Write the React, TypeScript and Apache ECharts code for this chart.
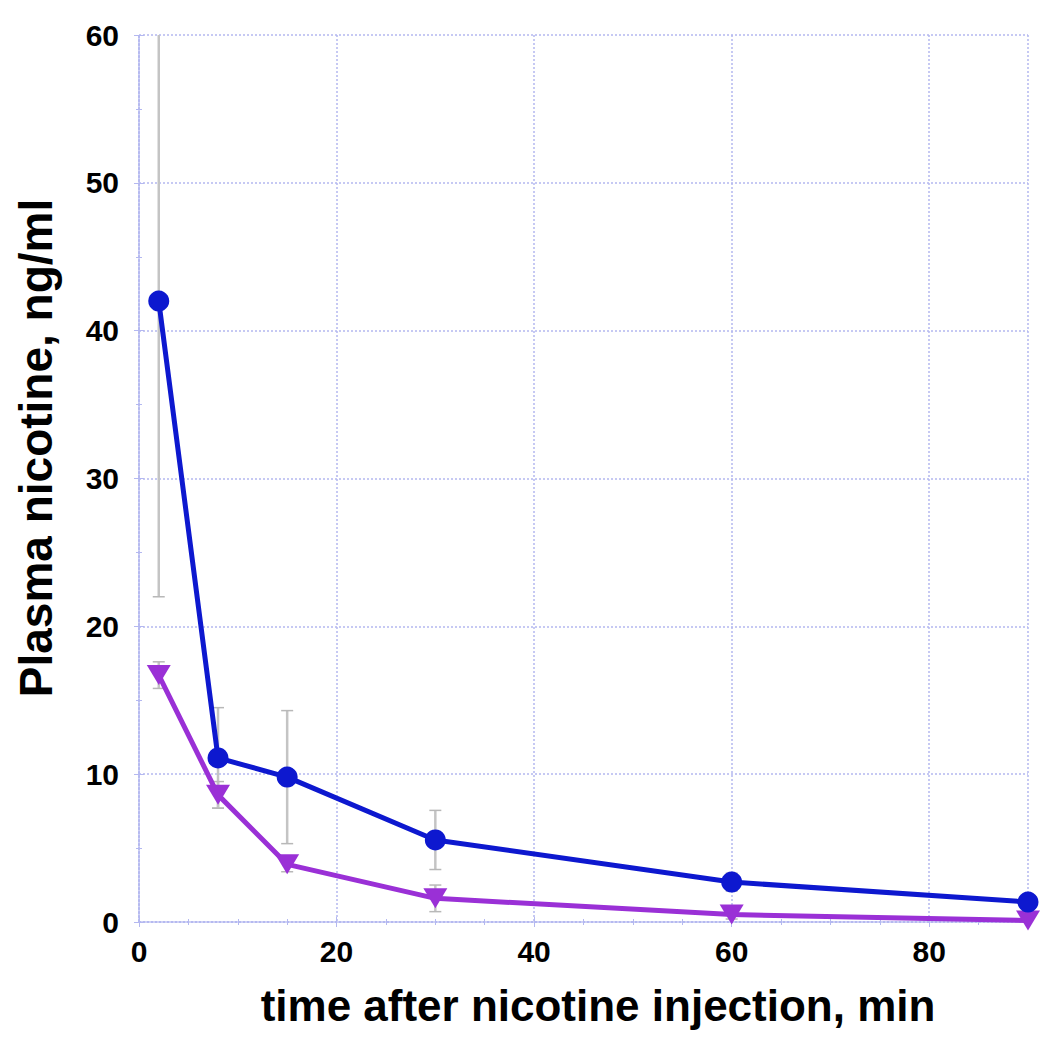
import React, { useEffect, useRef } from "react";
import * as echarts from "echarts";

const times = [2, 8, 15, 30, 60, 90];
const seriesA = [42, 11.1, 9.8, 5.55, 2.7, 1.35];
const seriesAErr = [20, 3.4, 4.5, 2.0, 0.6, 0.3];
const seriesB = [16.7, 8.6, 3.9, 1.6, 0.5, 0.1];
const seriesBErr = [0.9, 0.9, 0.5, 0.9, 0.3, 0.2];
const xTitle = "time after nicotine injection, min";
const yTitle = "Plasma nicotine, ng/ml";

const X_MIN = 0, X_MAX = 90, Y_MIN = 0, Y_MAX = 60;

const BLUE = "#0d18cf";
const PURPLE = "#9a30d6";
const GRIDC = "#b4b8f0";
const FONT = "'Liberation Sans', Arial, Helvetica, sans-serif";

function errRender(params: any, api: any) {
  const x = api.value(0);
  const y = api.value(1);
  const e = api.value(2);
  const hiV = y + e;
  const loV = y - e;
  const hi = api.coord([x, Math.min(hiV, Y_MAX)]);
  const lo = api.coord([x, Math.max(loV, Y_MIN)]);
  const style = { stroke: "#c4c4c4", lineWidth: 2.5 };
  const children: any[] = [
    { type: "line", shape: { x1: hi[0], y1: hi[1], x2: lo[0], y2: lo[1] }, style },
  ];
  const w = 6;
  if (hiV <= Y_MAX) {
    children.push({ type: "line", shape: { x1: hi[0] - w, y1: hi[1], x2: hi[0] + w, y2: hi[1] }, style: { stroke: "#b8b8b8", lineWidth: 1.5 } });
  }
  if (loV >= Y_MIN) {
    children.push({ type: "line", shape: { x1: lo[0] - w, y1: lo[1], x2: lo[0] + w, y2: lo[1] }, style: { stroke: "#b8b8b8", lineWidth: 1.5 } });
  }
  return { type: "group", children };
}

export default function App() {
  const ref = useRef<HTMLDivElement>(null);
  useEffect(() => {
    if (!ref.current) return;
    const chart = echarts.init(ref.current, null, { renderer: "svg" });
    const dataA = times.map((t, i) => [t, seriesA[i]]);
    const dataB = times.map((t, i) => [t, seriesB[i]]);
    const errA = times.map((t, i) => [t, seriesA[i], seriesAErr[i]]);
    const errB = times.map((t, i) => [t, seriesB[i], seriesBErr[i]]);
    const borderAxisLine = { show: true, lineStyle: { color: GRIDC, width: 1.5, type: [2, 2] as any } };
    const tickStyle = { show: true, inside: true, length: 5, lineStyle: { color: GRIDC, width: 1 } };
    const minorStyle = { show: true, splitNumber: 4, length: 3, lineStyle: { color: GRIDC, width: 1 } };
    chart.setOption({
      animation: false,
      backgroundColor: "#ffffff",
      grid: { left: 139, right: 22, top: 35, bottom: 125, containLabel: false },
      graphic: [
        {
          type: "text",
          x: 36,
          y: 448,
          rotation: Math.PI / 2,
          style: {
            text: yTitle,
            fontFamily: FONT,
            fontWeight: "bold",
            fontSize: 46,
            fill: "#000",
            align: "center",
            verticalAlign: "middle",
          },
        },
        {
          type: "text",
          x: 598,
          y: 1005,
          style: {
            text: xTitle,
            fontFamily: FONT,
            fontWeight: "bold",
            fontSize: 44,
            fill: "#000",
            align: "center",
            verticalAlign: "middle",
          },
        },
      ],
      xAxis: [
        {
          type: "value",
          min: X_MIN,
          max: X_MAX,
          interval: 20,
          position: "bottom",
          axisLine: borderAxisLine,
          axisTick: tickStyle,
          minorTick: minorStyle,
          axisLabel: { showMaxLabel: false, margin: 14, fontFamily: FONT, fontWeight: "bold", fontSize: 30, color: "#000" },
          splitLine: { show: true, lineStyle: { color: GRIDC, width: 1.5, type: [2, 2] as any } },
        },
        {
          type: "value",
          min: X_MIN,
          max: X_MAX,
          interval: 20,
          position: "top",
          axisLine: borderAxisLine,
          axisTick: tickStyle,
          minorTick: minorStyle,
          axisLabel: { show: false },
          splitLine: { show: false },
        },
      ],
      yAxis: [
        {
          type: "value",
          min: Y_MIN,
          max: Y_MAX,
          interval: 10,
          position: "left",
          axisLine: borderAxisLine,
          axisTick: tickStyle,
          minorTick: { ...minorStyle, splitNumber: 2 },
          axisLabel: { margin: 20, fontFamily: FONT, fontWeight: "bold", fontSize: 30, color: "#000" },
          splitLine: { show: true, lineStyle: { color: GRIDC, width: 1.5, type: [2, 2] as any } },
        },
        {
          type: "value",
          min: Y_MIN,
          max: Y_MAX,
          interval: 10,
          position: "right",
          axisLine: borderAxisLine,
          axisTick: tickStyle,
          minorTick: { ...minorStyle, splitNumber: 2 },
          axisLabel: { show: false },
          splitLine: { show: false },
        },
      ],
      series: [
        { type: "custom", renderItem: errRender, data: errA, z: 1, encode: { x: 0, y: 1 } },
        { type: "custom", renderItem: errRender, data: errB, z: 1, encode: { x: 0, y: 1 } },
        {
          type: "line",
          data: dataB,
          z: 3,
          symbol: "triangle",
          symbolRotate: 180,
          symbolSize: [24, 20],
          lineStyle: { color: PURPLE, width: 5 },
          itemStyle: { color: PURPLE },
        },
        {
          type: "line",
          data: dataA,
          z: 4,
          symbol: "circle",
          symbolSize: 21,
          lineStyle: { color: BLUE, width: 5 },
          itemStyle: { color: BLUE },
        },
      ],
    });
    return () => chart.dispose();
  }, []);
  return <div ref={ref} style={{ width: 1050, height: 1047, position: "absolute", left: 0, top: 0 }} />;
}
